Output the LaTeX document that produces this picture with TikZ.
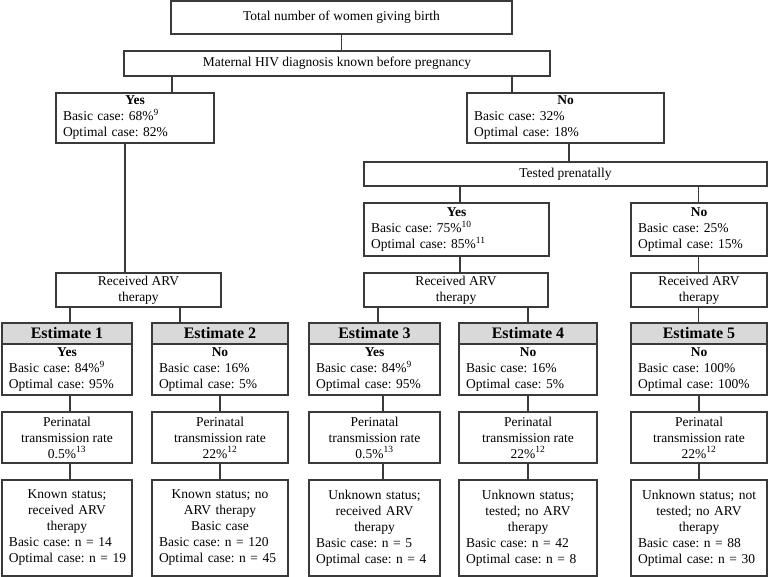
\documentclass[tikz,border=0pt]{standalone}
\usepackage{fontspec}
\setmainfont{Liberation Serif}
\usetikzlibrary{positioning}
\definecolor{cline}{HTML}{3A3A3A}
\definecolor{chead}{HTML}{D9D9D9}
\newcommand{\cl}[1]{\makebox[\hsize]{#1}}
\frenchspacing
\tikzset{
  every picture/.style={line width=1.4pt},
  box/.style={draw=cline, inner sep=0pt, outer sep=0pt, align=center, font=\fontsize{13.5}{16}\selectfont\frenchspacing},
  casebox/.style={box, align=left, inner xsep=7pt},
  headbox/.style={box, fill=chead, font=\fontsize{16}{18}\selectfont\bfseries},
  link/.style={draw=cline},
}

\begin{document}
\begin{tikzpicture}[x=1pt, y=-1pt]
  \useasboundingbox (0,0) rectangle (768,577);
  % upper part of the tree
  \node[box, minimum width=341pt, minimum height=33pt] (total) at (341.5,17.5) {Total number of women giving birth};
  \node[box, minimum width=426pt, minimum height=25pt] (known) at (337,63.5) {Maternal HIV diagnosis known before pregnancy};
  \node[casebox, text width=144pt, minimum height=50pt] (yes1) at (135,118) {\cl{\textbf{Yes}}\\Basic case: 68\%\textsuperscript{9}\\Optimal case: 82\%};
  \node[casebox, text width=183pt, minimum height=50pt] (no1) at (565.5,118) {\cl{\textbf{No}}\\Basic case: 32\%\\Optimal case: 18\%};
  \node[box, minimum width=403pt, minimum height=24pt] (tested) at (565.5,174) {Tested prenatally};
  \node[casebox, text width=171pt, minimum height=53pt] (yes2) at (456.5,229.5) {\cl{\textbf{Yes}}\\Basic case: 75\%\textsuperscript{10}\\Optimal case: 85\%\textsuperscript{11}};
  \node[casebox, text width=122pt, minimum height=53pt] (no2) at (699,229.5) {\cl{\textbf{No}}\\Basic case: 25\%\\Optimal case: 15\%};
  \node[box, minimum width=165pt, minimum height=34pt] (arv1) at (138.5,290) {Received ARV\\therapy};
  \node[box, minimum width=184pt, minimum height=34pt] (arv2) at (456,290) {Received ARV\\therapy};
  \node[box, minimum width=136pt, minimum height=34pt] (arv3) at (699,290) {Received ARV\\therapy};

  % the five estimates
  \foreach \i/\cx/\w/\lx/\ans/\bc/\oc/\rate/\who/\bn/\on in {
    1/67/130/70/Yes/84\%\textsuperscript{9}/95\%/0.5\%\textsuperscript{13}/{\cl{Known status;}\\\cl{received ARV}\\\cl{therapy}}/14/19,
    2/220/136/220/No/16\%/5\%/22\%\textsuperscript{12}/{\cl{Known status; no}\\\cl{ARV therapy}\\\cl{Basic case}}/120/45,
    3/374.5/131/383/Yes/84\%\textsuperscript{9}/95\%/0.5\%\textsuperscript{13}/{\cl{Unknown status;}\\\cl{received ARV}\\\cl{therapy}}/5/4,
    4/528/138/528/No/16\%/5\%/22\%\textsuperscript{12}/{\cl{Unknown status;}\\\cl{tested; no ARV}\\\cl{therapy}}/42/8,
    5/699/136/699/No/100\%/100\%/22\%\textsuperscript{12}/{\cl{Unknown status; not}\\\cl{tested; no ARV}\\\cl{therapy}}/88/30} {
    \pgfmathsetmacro{\tw}{\w-14}
    \node[headbox, minimum width=\w pt, minimum height=21pt] (est\i) at (\cx,333.5) {Estimate \i};
    \node[casebox, text width=\tw pt, minimum height=51pt, below=0pt of est\i] (share\i) {\cl{\textbf{\ans}}\\Basic case: \bc\\Optimal case: \oc};
    \node[box, minimum width=\w pt, minimum height=51pt] (rate\i) at (\cx,437.5) {Perinatal\\transmission rate\\\rate};
    \node[casebox, text width=\tw pt, minimum height=96pt] (out\i) at (\cx,528) {\who\\\mbox{Basic case: n = \bn}\\\mbox{Optimal case: n = \on}};
    \coordinate (lx\i) at (\lx,0);
    \draw[link] (share\i.south -| lx\i) -- (rate\i.north -| lx\i);
    \draw[link] (rate\i.south -| lx\i) -- (out\i.north -| lx\i);
  }

  % connectors
  \coordinate (jyes1) at (172,0);
  \coordinate (jno1) at (512,0);
  \coordinate (jarv1) at (125,0);
  \coordinate (jtested) at (569,0);
  \coordinate (jyes2) at (460,0);
  \coordinate (jno2) at (698.5,0);
  \coordinate (jest1) at (70,0);
  \coordinate (jest2) at (180,0);
  \coordinate (jest3) at (378,0);
  \coordinate (jest4) at (528,0);
  \coordinate (jest5) at (698.5,0);
  \draw[link] (total) -- (total |- known.north);
  \foreach \a/\b/\j in {known/yes1/jyes1, known/no1/jno1, yes1/arv1/jarv1, no1/tested/jtested,
                        tested/yes2/jyes2, tested/no2/jno2, yes2/arv2/jyes2, no2/arv3/jno2,
                        arv1/est1/jest1, arv1/est2/jest2, arv2/est3/jest3, arv2/est4/jest4, arv3/est5/jest5}
    \draw[link] (\a.south -| \j) -- (\b.north -| \j);
\end{tikzpicture}
\end{document}
